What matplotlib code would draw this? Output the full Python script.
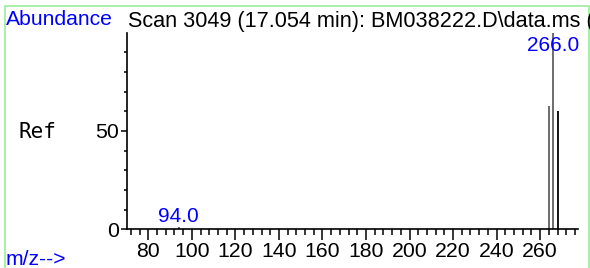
import matplotlib
matplotlib.use("Agg")
import matplotlib.pyplot as plt
from matplotlib.patches import Rectangle
from matplotlib.ticker import MultipleLocator, FixedLocator

plt.rcParams['font.family'] = ['Liberation Sans', 'DejaVu Sans']

# spectrum peaks
mz = [94.0, 264.0, 266.0, 268.0]
abundance = [1.0, 62.5, 100.0, 60.4]
peak_colors = ['#606060', '#606060', '#606060', 'black']

# peaks with a m/z label above them
label_mz = [94.0, 266.0]
label_y = [6.3, 93.7]

title = 'Scan 3049 (17.054 min): BM038222.D\\data.ms (-)'

W, H = 590, 268
fig = plt.figure(figsize=(W / 100, H / 100), dpi=100)

# axes box in pixel coordinates of the reference
x0, x1, y_top, y_bot = 127, 578, 32.7, 229.3
ax = fig.add_axes([x0 / W, 1 - y_bot / H, (x1 - x0) / W, (y_bot - y_top) / H])

ax.vlines(mz, 0, abundance, colors=peak_colors, lw=1.3)
for m, y in zip(label_mz, label_y):
    ax.text(m, y, f'{m:.1f}', color='#0000ff', fontsize=15,
            ha='center', va='center')

ax.set_xlim(70.2, 277.4)
ax.set_ylim(0, 100)
ax.spines['top'].set_visible(False)
ax.spines['right'].set_visible(False)
for s in ('left', 'bottom'):
    ax.spines[s].set_linewidth(1.2)

ax.xaxis.set_major_locator(FixedLocator(range(80, 261, 20)))
ax.xaxis.set_minor_locator(MultipleLocator(4))
ax.yaxis.set_major_locator(FixedLocator([0, 50]))
ax.yaxis.set_minor_locator(FixedLocator([10, 20, 30, 40, 60, 70, 80, 90]))
ax.tick_params(axis='x', which='major', length=8, width=1.1, labelsize=15.3, pad=1)
ax.tick_params(axis='x', which='minor', length=4.5, width=1.1)
ax.tick_params(axis='y', which='major', length=4, width=1.1, labelsize=15.3, pad=2)
ax.tick_params(axis='y', which='minor', length=2.5, width=1.1)


def ptext(x, y, s, **kw):
    fig.text(x / W, 1 - y / H, s, **kw)


ptext(6, 25, 'Abundance', color='#0000ff', fontsize=15.2, va='baseline')
ptext(127.7, 27, title, color='black', fontsize=15.6, va='baseline')
ptext(19, 138.3, 'Ref', family='DejaVu Sans Mono', fontsize=15, va='baseline')
ptext(6, 265, 'm/z-->', color='#0000ff', fontsize=15.2, va='baseline')

# light green frame, open at the bottom
fig.add_artist(Rectangle((5 / W, -0.1), (589 - 5) / W, 1.1 - 6 / H,
                         transform=fig.transFigure, fill=False,
                         edgecolor='#99ee99', lw=1.2))

fig.savefig('out.png', dpi=100)
